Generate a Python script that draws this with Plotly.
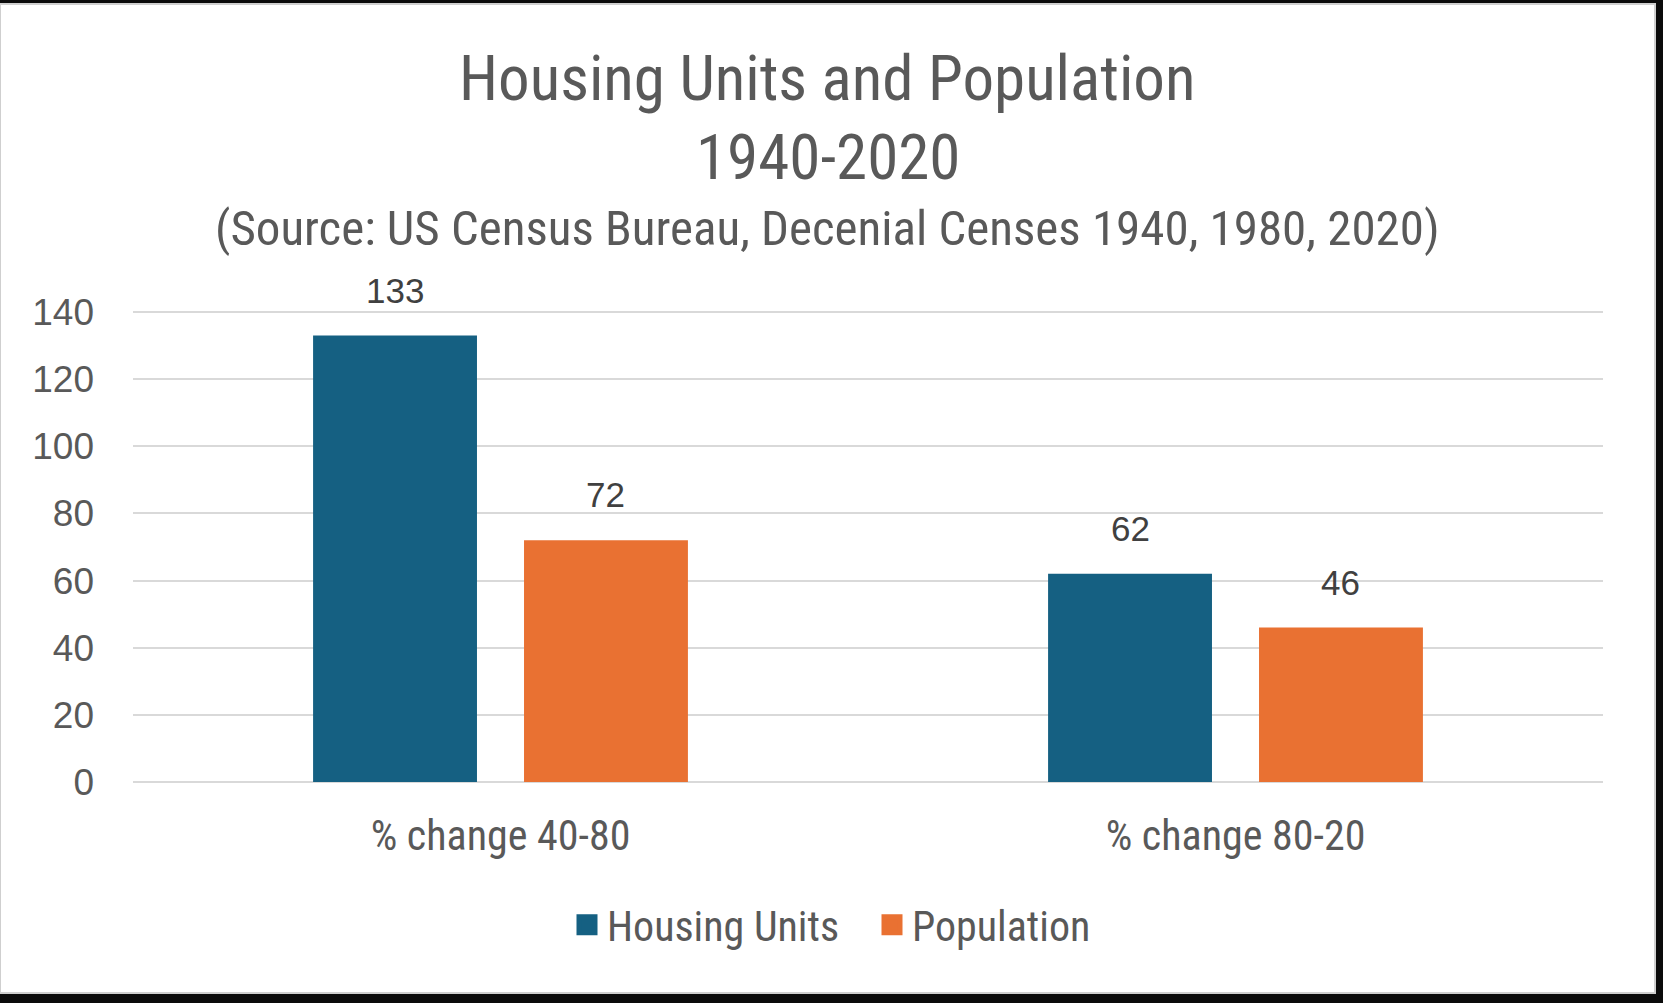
import plotly.graph_objects as go

categories = ["% change 40-80", "% change 80-20"]
housing_units = [133, 62]
population = [72, 46]
series_names = ["Housing Units", "Population"]
y_ticks = [0, 20, 40, 60, 80, 100, 120, 140]

title_line1 = "Housing Units and Population"
title_line2 = "1940-2020"
subtitle = "(Source: US Census Bureau, Decenial Censes 1940, 1980, 2020)"

BLUE = "#156082"
ORANGE = "#E97132"
TEXT = "#595959"
LABEL = "#404040"
GRID = "#D9D9D9"
NARROW = "Liberation Sans Narrow, Arial Narrow, Roboto Condensed, Liberation Sans, sans-serif"
ARIAL = "Liberation Sans, Arial, sans-serif"

W, H = 1663, 1003
L, R, T, B = 133, 60, 310, 221
PW, PH = W - L - R, H - T - B


def px_x(px):
    return (px - L) / PW


def px_y(py):
    return (H - B - py) / PH


fig = go.Figure()
fig.add_trace(go.Bar(x=categories, y=housing_units, name=series_names[0],
                     marker=dict(color=BLUE, line=dict(width=0)), showlegend=False))
fig.add_trace(go.Bar(x=categories, y=population, name=series_names[1],
                     marker=dict(color=ORANGE, line=dict(width=0)), showlegend=False))

# legend entries with larger square swatches
for name, col in zip(series_names, [BLUE, ORANGE]):
    fig.add_trace(go.Scatter(x=[categories[0]], y=[None], mode="markers", name=name,
                             marker=dict(symbol="square", size=16, color=col,
                                         line=dict(color=col, width=5)),
                             hoverinfo="skip"))

# data labels
slot = 0.5 * (1 - 0.426) / 2  # half of group width in category units
annotations = []
for vals, sign in [(housing_units, -1), (population, 1)]:
    for i, v in enumerate(vals):
        annotations.append(dict(x=i + sign * slot, y=v, xref="x", yref="y", text=str(v),
                                showarrow=False, yanchor="bottom", yshift=24,
                                font=dict(family=ARIAL, size=35, color=LABEL)))

annotations += [
    dict(x=px_x(827.5), y=px_y(78.5), xref="paper", yref="paper", text=title_line1,
         showarrow=False, xanchor="center", yanchor="middle",
         font=dict(family=NARROW, size=63, color=TEXT)),
    dict(x=px_x(827.5), y=px_y(157.5), xref="paper", yref="paper", text=title_line2,
         showarrow=False, xanchor="center", yanchor="middle",
         font=dict(family=NARROW, size=63, color=TEXT)),
    dict(x=px_x(827.5), y=px_y(228), xref="paper", yref="paper", text=subtitle,
         showarrow=False, xanchor="center", yanchor="middle",
         font=dict(family=NARROW, size=49, color=TEXT)),
]

fig.update_layout(
    width=W, height=H,
    margin=dict(l=L, r=R, t=T, b=B, pad=0),
    paper_bgcolor="#0b0b0b",
    plot_bgcolor="rgba(0,0,0,0)",
    barmode="group", bargap=0.426, bargroupgap=0.223,
    showlegend=True,
    legend=dict(orientation="h", x=px_x(567), y=px_y(925), xanchor="left", yanchor="middle",
                entrywidth=260, entrywidthmode="pixels",
                font=dict(family=NARROW, size=42, color=TEXT), bgcolor="rgba(0,0,0,0)"),
    annotations=annotations,
    shapes=[dict(type="rect", xref="paper", yref="paper", layer="below",
                 x0=px_x(0), x1=px_x(1655), y0=px_y(993), y1=px_y(4),
                 fillcolor="white", line=dict(color="#CFCFCF", width=2))],
    xaxis=dict(type="category", showgrid=False, showline=False, zeroline=False, ticks="",
               tickfont=dict(family=NARROW, size=42, color=TEXT), ticklabelstandoff=25),
    yaxis=dict(range=[0, 140.6], tickvals=y_ticks, showgrid=True, gridcolor=GRID, gridwidth=2,
               zeroline=True, zerolinecolor=GRID, zerolinewidth=2, showline=False, ticks="",
               tickfont=dict(family=ARIAL, size=37, color=TEXT), ticklabelstandoff=38),
)

fig.write_html("out.html", config={"displayModeBar": False},
               post_script="document.body.style.margin='0';document.body.style.background='#0b0b0b';")
